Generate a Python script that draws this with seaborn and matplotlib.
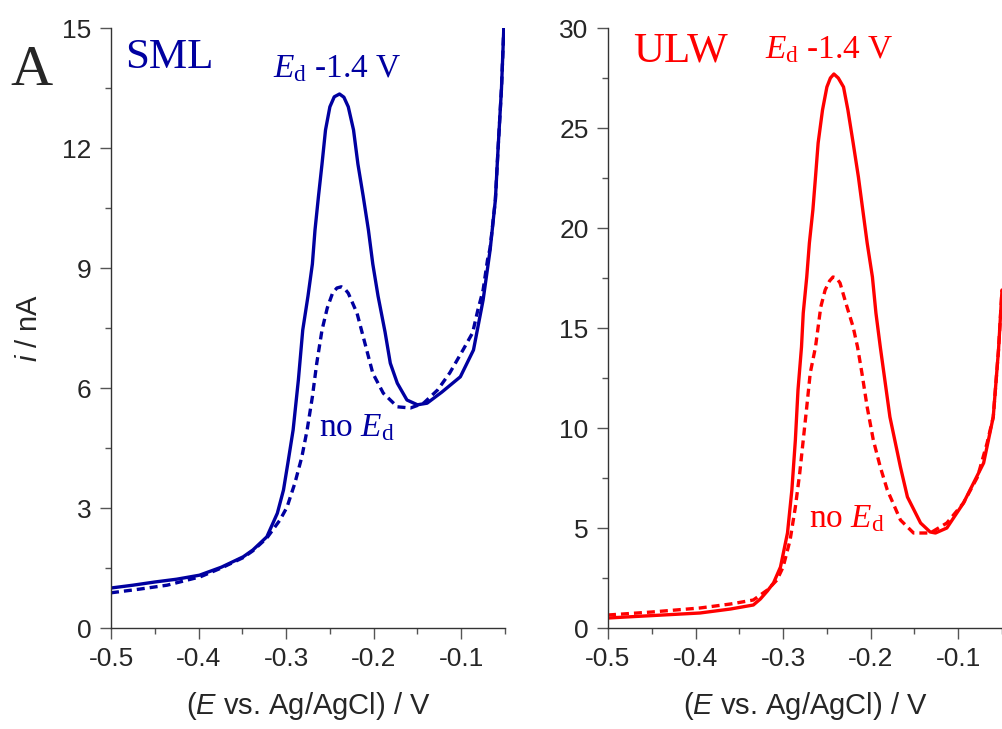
import numpy as np
import seaborn as sns
import matplotlib.pyplot as plt
from matplotlib.ticker import MultipleLocator

# === DANE ===
# SML, E_d -1.4 V (linia ciągła)
sml_ed_E = [-0.500, -0.475, -0.450, -0.425, -0.399, -0.374, -0.349, -0.338, -0.322,
            -0.310, -0.303, -0.298, -0.292, -0.286, -0.281, -0.275, -0.270, -0.267,
            -0.263, -0.259, -0.255, -0.250, -0.245, -0.239, -0.234, -0.229, -0.223,
            -0.218, -0.212, -0.206, -0.201, -0.195, -0.187, -0.181, -0.173, -0.162,
            -0.150, -0.139, -0.122, -0.101, -0.086, -0.075, -0.067, -0.061, -0.058,
            -0.054, -0.051]
sml_ed_i = [1.00, 1.07, 1.15, 1.22, 1.32, 1.52, 1.78, 1.95, 2.28,
            2.87, 3.45, 4.12, 4.95, 6.20, 7.45, 8.30, 9.10, 9.95,
            10.80, 11.60, 12.45, 13.03, 13.28, 13.35, 13.27, 13.03, 12.45,
            11.60, 10.80, 9.95, 9.10, 8.30, 7.40, 6.62, 6.12, 5.70,
            5.58, 5.62, 5.90, 6.28, 6.95, 8.20, 9.45, 10.70, 11.95,
            13.50, 15.20]
# SML, bez E_d (linia przerywana)
sml_no_E = [-0.500, -0.468, -0.436, -0.398, -0.374, -0.349, -0.338, -0.322, -0.307,
            -0.299, -0.290, -0.282, -0.276, -0.270, -0.265, -0.259, -0.253, -0.247,
            -0.242, -0.237, -0.233, -0.229, -0.219, -0.213, -0.207, -0.201, -0.189,
            -0.173, -0.158, -0.143, -0.127, -0.113, -0.098, -0.087, -0.081, -0.075,
            -0.070, -0.067, -0.061, -0.058, -0.054, -0.051]
sml_no_i = [0.88, 0.97, 1.07, 1.28, 1.50, 1.76, 1.93, 2.25, 2.70,
            3.02, 3.62, 4.28, 4.95, 5.78, 6.62, 7.45, 8.00, 8.37,
            8.50, 8.53, 8.48, 8.37, 7.87, 7.37, 6.87, 6.37, 5.87,
            5.53, 5.50, 5.62, 5.95, 6.38, 6.95, 7.38, 7.95, 8.45,
            9.20, 9.50, 10.70, 11.95, 13.50, 15.20]
# ULW, E_d -1.4 V
ulw_ed_E = [-0.500, -0.450, -0.395, -0.360, -0.334, -0.326, -0.318, -0.311, -0.303,
            -0.295, -0.290, -0.286, -0.283, -0.279, -0.277, -0.273, -0.270, -0.266,
            -0.263, -0.260, -0.255, -0.250, -0.246, -0.242, -0.237, -0.231, -0.226,
            -0.220, -0.214, -0.209, -0.204, -0.198, -0.194, -0.189, -0.178, -0.166,
            -0.158, -0.143, -0.132, -0.126, -0.113, -0.094, -0.071, -0.060, -0.054,
            -0.050]
ulw_ed_i = [0.50, 0.62, 0.75, 0.95, 1.15, 1.45, 1.85, 2.25, 3.05,
            4.75, 6.90, 9.40, 11.90, 14.05, 15.75, 17.55, 19.25, 20.90,
            22.55, 24.25, 25.90, 27.05, 27.50, 27.70, 27.50, 27.05, 25.90,
            24.25, 22.55, 20.90, 19.25, 17.55, 15.75, 14.05, 10.55, 8.05,
            6.55, 5.25, 4.80, 4.75, 5.00, 6.25, 8.25, 10.55, 13.90,
            16.90]
# ULW, bez E_d
ulw_no_E = [-0.500, -0.450, -0.395, -0.360, -0.334, -0.318, -0.307, -0.300, -0.292,
            -0.286, -0.281, -0.277, -0.273, -0.269, -0.263, -0.260, -0.257, -0.252,
            -0.247, -0.243, -0.239, -0.235, -0.227, -0.220, -0.215, -0.210, -0.204,
            -0.197, -0.189, -0.181, -0.166, -0.151, -0.132, -0.113, -0.094, -0.078,
            -0.067, -0.060, -0.054, -0.050]
ulw_no_i = [0.65, 0.80, 1.00, 1.20, 1.40, 1.90, 2.40, 3.05, 4.40,
            6.05, 7.75, 9.40, 11.05, 12.75, 14.05, 15.05, 16.05, 16.90,
            17.35, 17.55, 17.50, 17.25, 16.05, 15.05, 14.05, 12.75, 11.05,
            9.40, 8.05, 6.90, 5.40, 4.75, 4.75, 5.25, 6.25, 7.55,
            9.25, 10.55, 13.90, 16.90]

BLUE = "#0000a0"
RED = "#ff0000"

# === STYL ===
sns.set_style("ticks")
plt.rcParams["font.family"] = ["Liberation Sans", "DejaVu Sans"]
plt.rcParams["mathtext.fontset"] = "custom"
plt.rcParams["mathtext.rm"] = "Liberation Serif"
plt.rcParams["mathtext.it"] = "Liberation Serif:italic"
plt.rcParams["mathtext.bf"] = "Liberation Sans:italic"  # kursywa bezszeryfowa do etykiet osi

fig = plt.figure(figsize=(10.02, 7.29), dpi=100)
ax1 = fig.add_axes([111 / 1002, 101 / 729, 394 / 1002, 600 / 729])
ax2 = fig.add_axes([608 / 1002, 101 / 729, 394 / 1002, 600 / 729])


def draw(ax, E1, i1, E2, i2, color):
    sns.lineplot(x=E1, y=i1, ax=ax, color=color, lw=2.4, estimator=None, sort=False)
    sns.lineplot(x=E2, y=i2, ax=ax, color=color, lw=2.4, estimator=None, sort=False)
    ax.lines[-1].set_dashes((2.4, 1.5))
    for ln in ax.lines:
        ln.set_solid_joinstyle("round")
        ln.set_dash_joinstyle("round")


draw(ax1, sml_ed_E, sml_ed_i, sml_no_E, sml_no_i, BLUE)
draw(ax2, ulw_ed_E, ulw_ed_i, ulw_no_E, ulw_no_i, RED)

for ax, ymax, ystep in [(ax1, 15, 3), (ax2, 30, 5)]:
    ax.set_xlim(-0.5, -0.05)
    ax.set_ylim(0, ymax)
    ax.xaxis.set_minor_locator(MultipleLocator(0.05))
    ax.yaxis.set_major_locator(MultipleLocator(ystep))
    ax.yaxis.set_minor_locator(MultipleLocator(ystep / 2))
    ax.set_xticks(np.arange(-0.5, -0.09, 0.1))
    ax.set_xticklabels(["-0.5", "-0.4", "-0.3", "-0.2", "-0.1"])
    sns.despine(ax=ax)
    for s in ["left", "bottom"]:
        ax.spines[s].set_color("#333333")
        ax.spines[s].set_linewidth(1.0)
    ax.tick_params(which="major", direction="out", length=8, width=1.0,
                   color="#555555", labelsize=19, pad=6)
    ax.tick_params(which="minor", direction="out", length=4, width=1.0, color="#555555")
    ax.set_xlabel(r"($\mathbf{E}$ vs. Ag/AgCl) / V", fontsize=21, labelpad=13)
    ax.set_ylabel("")
    ax.patch.set_alpha(0)

ax1.set_ylabel(r"$\mathbf{i}$ / nA", fontsize=21, labelpad=14)

# === ADNOTACJE ===
serif = "Liberation Serif"
ax1.text(-0.484, 14.0, "SML", color=BLUE, fontsize=31, family=serif, va="baseline")
ax1.text(-0.315, 13.78, r"$E_\mathrm{d}$ -1.4 V", color=BLUE, fontsize=24, family=serif, va="baseline")
ax1.text(-0.263, 4.8, r"no $E_\mathrm{d}$", color=BLUE, fontsize=24, family=serif, va="baseline")
ax2.text(-0.471, 28.3, "ULW", color=RED, fontsize=31, family=serif, va="baseline")
ax2.text(-0.321, 28.5, r"$E_\mathrm{d}$ -1.4 V", color=RED, fontsize=24, family=serif, va="baseline")
ax2.text(-0.270, 5.05, r"no $E_\mathrm{d}$", color=RED, fontsize=24, family=serif, va="baseline")
fig.text(10 / 1002, (729 - 85) / 729, "A", fontsize=42, family=serif, va="baseline")

fig.savefig("out.png", dpi=100)
